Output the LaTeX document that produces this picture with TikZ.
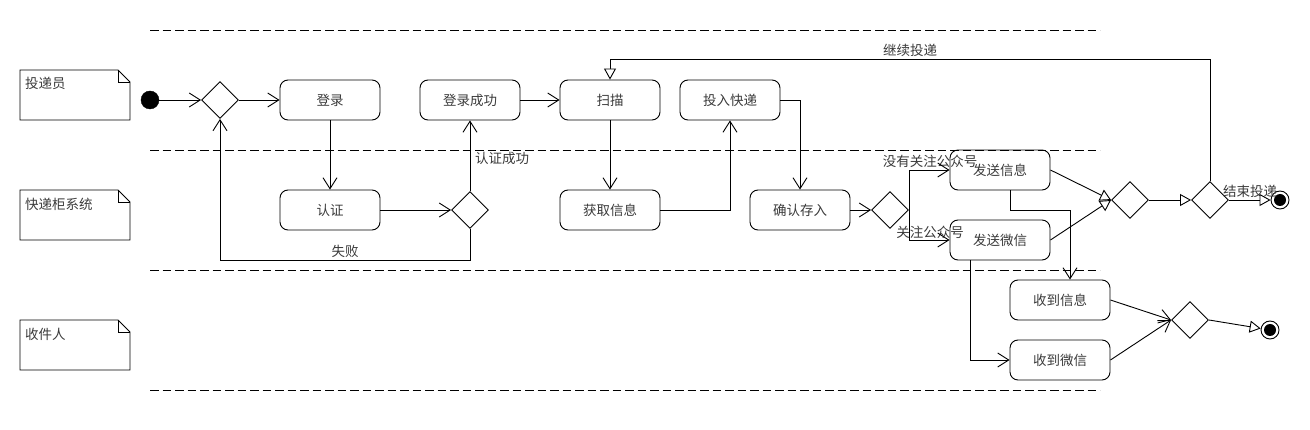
\documentclass[tikz,border=0pt]{standalone}
\usepackage{fontspec}
\setmainfont{Noto Sans CJK SC}
\usetikzlibrary{arrows.meta,shapes.geometric}
\definecolor{txt}{HTML}{3A3A3A}
\begin{document}
\begin{tikzpicture}[x=1pt,y=-1pt,
  every node/.style={font=\fontsize{13.5}{16}\selectfont, text=txt},
  act/.style={draw, rounded corners=8pt, minimum width=100pt, minimum height=40pt, inner sep=0pt, line width=0.9pt},
  dec/.style={draw, diamond, minimum width=37pt, minimum height=37pt, inner sep=0pt, line width=0.9pt},
  lbl/.style={inner sep=0pt},
  flow/.style={line width=0.9pt, -{Straight Barb[length=11pt,width=14pt,line width=0.9pt]}},
  tflow/.style={line width=0.9pt, -{Triangle[open,length=11pt,width=12pt,line width=0.9pt,fill=white]}},
  lane/.style={line width=0.9pt, dash pattern=on 8.5pt off 4pt},
  note/.style={line width=0.9pt},
  startn/.style={circle, fill=black, draw, minimum size=18pt, inner sep=0pt},
  endn/.style={circle, draw, line width=0.9pt, minimum size=18pt, inner sep=0pt,
     path picture={\fill[black] (path picture bounding box.center) circle (6pt);}}
]
\useasboundingbox (0,0) rectangle (1310,430);
% lanes
\foreach \yy in {30,150,270,390} \draw[lane] (150,\yy) -- (1100,\yy);
% lane notes
\foreach \yy in {70,190,320} {
  \draw[note] (20,\yy) -- (118,\yy) -- (130,\yy+12) -- (130,\yy+50) -- (20,\yy+50) -- cycle;
  \draw[note] (118,\yy) -- (118,\yy+12) -- (130,\yy+12);
}
\node[lbl, anchor=west] (l1) at (25,83) {投递员};
\node[lbl, anchor=west] (l2) at (25,204) {快递柜系统};
\node[lbl, anchor=west] (l3) at (25,334) {收件人};
% nodes
\node[startn] (start) at (150,100) {};
\node[dec] (d1) at (220,100) {};
\node[act] (login) at (330,100) {登录};
\node[act] (auth) at (330,210) {认证};
\node[dec] (dauth) at (470,210) {};
\node[act] (ok) at (470,100) {登录成功};
\node[act] (scan) at (610,100) {扫描};
\node[act] (put) at (730,100) {投入快递};
\node[act] (info) at (610,210) {获取信息};
\node[act] (confirm) at (800,210) {确认存入};
\node[dec] (d2) at (890,210) {};
\node[act] (send1) at (1000,170) {发送信息};
\node[act] (send2) at (1000,240) {发送微信};
\node[dec] (d3) at (1130,200) {};
\node[dec] (d4) at (1210,200) {};
\node[endn] (end1) at (1280,200) {};
\node[act] (recv1) at (1060,300) {收到信息};
\node[act] (recv2) at (1060,360) {收到微信};
\node[dec] (d5) at (1190,320) {};
\node[endn] (end2) at (1270,330) {};
% labels
\node[lbl] (fail) at (345,251) {失败};
\node[lbl, anchor=west] (authok) at (475,158) {认证成功};
\node[lbl] (cont) at (910,50) {继续投递};
\node[lbl] (nofollow) at (930,161) {没有关注公众号};
\node[lbl] (follow) at (930,232) {关注公众号};
\node[lbl] (finish) at (1250,191) {结束投递};
% edges
\draw[flow] (start) -- (d1.west);
\draw[flow] (d1.east) -- (login.west);
\draw[flow] (login.south) -- (auth.north);
\draw[flow] (auth.east) -- (dauth.west);
\draw[flow] (dauth.north) -- (ok.south);
\draw[flow] (dauth.south) -- ++(0,31.5) -| (d1.south);
\draw[flow] (ok.east) -- (scan.west);
\draw[flow] (scan.south) -- (info.north);
\draw[flow] (info.east) -| (put.south);
\draw[flow] (put.east) -| (confirm.north);
\draw[flow] (confirm.east) -- (d2.west);
\draw[flow] (d2.east) |- (send1.west);
\draw[flow] (d2.east) |- (send2.west);
\draw[tflow] (send1.east) -- (d3.west);
\draw[tflow] (send2.east) -- (d3.west);
\draw[tflow] (d3.east) -- (d4.west);
\draw[tflow] (d4.east) -- (end1.west);
\draw[tflow] (d4.north) |- ([yshift=20pt]scan.north) -- (scan.north);
\draw[flow] ([xshift=10pt]send1.south) -- ++(0,20) -| ([xshift=10pt]recv1.north);
\draw[flow] ([xshift=-30pt]send2.south) |- (recv2.west);
\draw[flow] (recv1.east) -- (d5.west);
\draw[flow] (recv2.east) -- (d5.west);
\draw[tflow] (d5.east) -- (end2);
\end{tikzpicture}
\end{document}
